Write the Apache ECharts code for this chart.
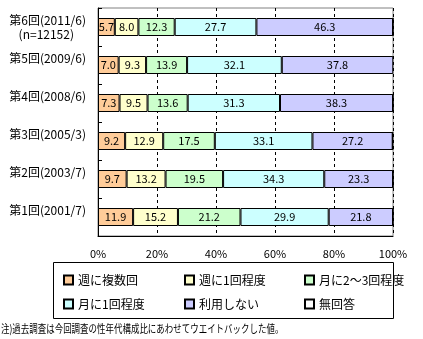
<!DOCTYPE html>
<html>
<head>
<meta charset="utf-8">
<script src="https://cdn.jsdelivr.net/npm/echarts@6/dist/echarts.min.js"></script>
<style>html,body{margin:0;padding:0;background:#fff}#c{width:423px;height:339px}</style>
</head>
<body>
<div id="c"></div>
<script>
var categories = ['第6回(2011/6)\n(n=12152)　', '第5回(2009/6)', '第4回(2008/6)', '第3回(2005/3)', '第2回(2003/7)', '第1回(2001/7)'];
var seriesNames = ['週に複数回', '週に1回程度', '月に2～3回程度', '月に1回程度', '利用しない', '無回答'];
var weeklyMulti = [5.7, 7.0, 7.3, 9.2, 9.7, 11.9];
var weeklyOnce = [8.0, 9.3, 9.5, 12.9, 13.2, 15.2];
var monthly23 = [12.3, 13.9, 13.6, 17.5, 19.5, 21.2];
var monthlyOnce = [27.7, 32.1, 31.3, 33.1, 34.3, 29.9];
var notUsed = [46.3, 37.8, 38.3, 27.2, 23.3, 21.8];
var noAnswer = [0, 0, 0, 0, 0, 0];
var xTicks = [0, 20, 40, 60, 80, 100];
var colors = ['#FFCC99', '#FFFFCC', '#CCFFCC', '#CCFFFF', '#CCCCFF', '#FFFFFF'];
var note = '注)過去調査は今回調査の性年代構成比にあわせてウエイトバックした値。';

var FONT = '"Noto Sans CJK JP", "Noto Sans", sans-serif';
var allData = [weeklyMulti, weeklyOnce, monthly23, monthlyOnce, notUsed, noAnswer];

var series = allData.map(function (d, i) {
  return {
    name: seriesNames[i],
    type: 'bar',
    stack: 'total',
    barWidth: 18,
    data: d,
    itemStyle: { color: colors[i], borderColor: '#000', borderWidth: 1 },
    label: {
      show: i < 5,
      position: 'inside',
      color: '#000',
      fontSize: 11,
      fontFamily: FONT,
      formatter: function (p) { return p.value.toFixed(1); }
    },
    emphasis: { disabled: true }
  };
});

function legendCol(names, left) {
  return {
    orient: 'vertical',
    left: left,
    top: 273,
    padding: 0,
    itemGap: 10,
    itemWidth: 9,
    itemHeight: 9,
    icon: 'rect',
    selectedMode: false,
    data: names,
    textStyle: { fontSize: 12, lineHeight: 14, color: '#000', fontFamily: FONT }
  };
}

var chart = echarts.init(document.getElementById('c'));
chart.setOption({
  animation: false,
  backgroundColor: '#fff',
  grid: { left: 98, top: 8, width: 295, height: 228, show: true, borderColor: '#808080', borderWidth: 1, containLabel: false },
  xAxis: {
    type: 'value',
    min: xTicks[0],
    max: xTicks[xTicks.length - 1],
    interval: 20,
    axisLine: { show: true, lineStyle: { color: '#000', width: 1 } },
    axisTick: { show: false },
    splitLine: { show: true, lineStyle: { color: '#000', type: [3, 3], width: 1 } },
    axisLabel: { formatter: '{value}%', margin: 12, fontSize: 11, color: '#000', fontFamily: FONT }
  },
  yAxis: {
    type: 'category',
    inverse: true,
    data: categories,
    axisLine: { show: true, lineStyle: { color: '#000', width: 1 } },
    axisTick: { show: true, inside: true, length: 4, lineStyle: { color: '#000' } },
    axisLabel: {
      margin: 12,
      fontSize: 12,
      lineHeight: 14,
      color: '#000',
      fontFamily: FONT,
      align: 'right',
      formatter: function (v) { return v.indexOf('\n') >= 0 ? v : v + '\n '; }
    }
  },
  legend: [
    legendCol([seriesNames[0], seriesNames[3]], 63),
    legendCol([seriesNames[1], seriesNames[4]], 184),
    legendCol([seriesNames[2], seriesNames[5]], 304)
  ],
  graphic: [
    { type: 'rect', shape: { x: 53.5, y: 262.5, width: 340, height: 56 }, style: { fill: 'none', stroke: '#000', lineWidth: 1 }, silent: true },
    { type: 'text', x: 1, y: 323, scaleX: 0.77, style: { text: note, fontSize: 11, fill: '#000', fontFamily: FONT }, silent: true }
  ],
  series: series
});
</script>
</body>
</html>
